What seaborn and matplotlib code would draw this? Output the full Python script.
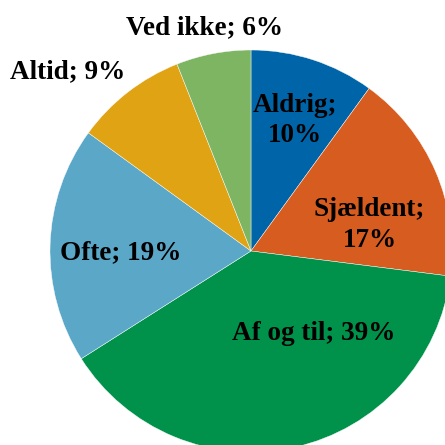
import matplotlib
matplotlib.use("Agg")
import matplotlib.pyplot as plt
import seaborn as sns

# data
categories = ["Aldrig", "Sjældent", "Af og til", "Ofte", "Altid", "Ved ikke"]
shares = [10, 17, 39, 19, 9, 6]
label_texts = ["Aldrig;\n10%", "Sjældent;\n17%", "Af og til; 39%",
               "Ofte; 19%", "Altid; 9%", "Ved ikke; 6%"]

# layout of the data labels (axes units, pie radius = 1)
label_pos = [(0.22, 0.65), (0.59, 0.13), (0.31, -0.41),
             (-0.65, -0.01), (-0.91, 0.89), (-0.23, 1.11)]

sns.set_theme(style="white")
plt.rcParams["font.family"] = ["Liberation Serif", "DejaVu Serif"]

colors = sns.color_palette(["#0065a8", "#d75c1f", "#00924a",
                            "#5ba7c8", "#e0a314", "#7db562"])

fig = plt.figure(figsize=(4.45, 4.45), dpi=100)
ax = fig.add_axes([0, 0, 1, 1])
ax.pie(shares, colors=colors, startangle=90, counterclock=False,
       radius=1, wedgeprops=dict(edgecolor="white", linewidth=0.3))

for txt, (x, y) in zip(label_texts, label_pos):
    ax.text(x, y, txt, ha="center", va="center", fontsize=19.5,
            fontweight="bold", color="black", linespacing=1.3)

# pie center at ~(251, 251) px with radius ~201 px
ax.set_xlim(-251 / 201, 194 / 201)
ax.set_ylim(-194 / 201, 251 / 201)
ax.set_aspect("equal")
ax.axis("off")

fig.savefig("out.png", dpi=100)
